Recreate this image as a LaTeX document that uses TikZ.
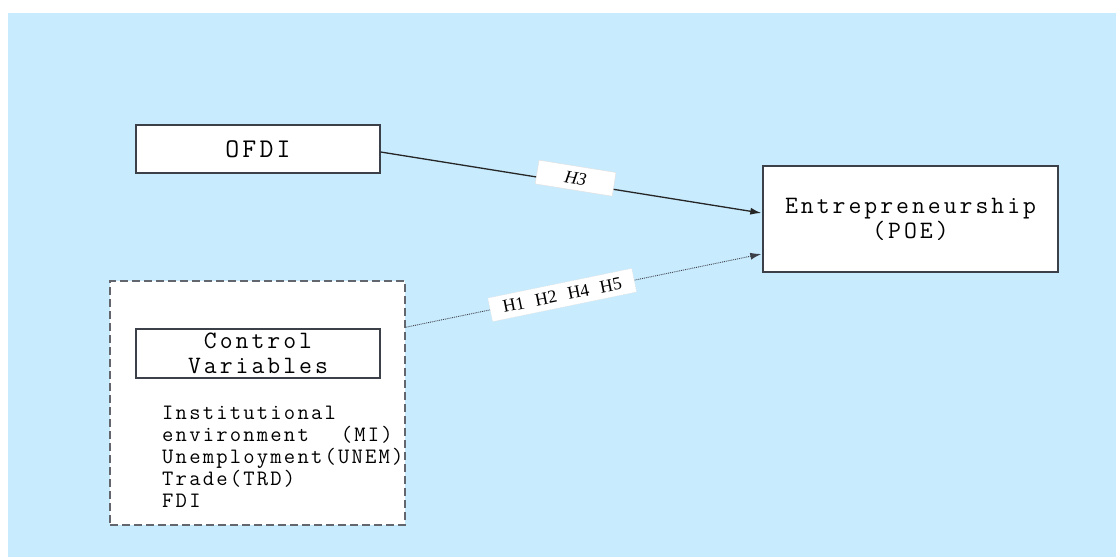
\documentclass[tikz,border=0pt]{standalone}
\usepackage{fontspec}
\setmainfont{Liberation Serif}
\newfontfamily\cmono{Latin Modern Mono}[LetterSpace=12]
\newfontfamily\cmonob{Latin Modern Mono}[LetterSpace=10]
\usetikzlibrary{arrows.meta,calc}
\definecolor{bgblue}{HTML}{C8EBFD}
\definecolor{edge}{HTML}{3C4048}
\begin{document}
\begin{tikzpicture}[x=1pt,y=-1pt,
  box/.style={draw=edge, line width=1.4pt, fill=white, inner sep=0pt, align=center, text=black},
  hyplabel/.style={fill=white, draw=gray!25, line width=0.4pt, sloped, font=\fontsize{18}{18}\selectfont, minimum height=24pt, inner ysep=0pt},
  arr/.style={-{Latex[length=11pt,width=7pt]}, draw=black!85}
]
\useasboundingbox (0,0) rectangle (1116,557);
\fill[bgblue] (8,13) rectangle (1116,557);

\node[box, minimum width=244pt, minimum height=48pt, font=\cmono\fontsize{27}{27}\selectfont] (ofdi) at (258,149) {OFDI};
\node[box, minimum width=295pt, minimum height=106pt, font=\cmono\fontsize{25}{25}\selectfont] (poe) at (910.5,219) {Entrepreneurship\\(POE)};
\node[draw=edge!80, dashed, dash pattern=on 8pt off 4pt, line width=1.5pt, fill=white, minimum width=295pt, minimum height=244pt, inner sep=0pt] (ctrl) at (257.5,403) {};
\node[box, minimum width=244pt, minimum height=49pt, font=\cmono\fontsize{25}{25}\selectfont] (cv) at (258,353.5) {Control\\Variables};
\node[anchor=north west, inner sep=0pt, align=left, font=\cmonob\fontsize{22}{22}\selectfont] (list) at (162,406)
  {Institutional\\environment\hspace{32pt}(MI)\\Unemployment(UNEM)\\Trade(TRD)\\FDI};

\coordinate (h3s) at ($(ofdi.east)+(0,3)$);
\coordinate (h3e) at ($(poe.west)+(-1,-6)$);
\coordinate (hds) at ($(ctrl.north east)+(0,47)$);
\coordinate (hde) at ($(poe.west)+(-1,35)$);

\draw[arr, line width=1.3pt] (h3s) -- node[hyplabel, pos=0.51, yshift=5pt, inner xsep=28pt] {\itshape H3} (h3e);
\draw[arr, line width=0.9pt, densely dotted, draw=edge] (hds) -- node[hyplabel, pos=0.44, inner xsep=13pt] {H1\hspace{11pt}H2\hspace{11pt}H4\hspace{11pt}H5} (hde);
\end{tikzpicture}
\end{document}
